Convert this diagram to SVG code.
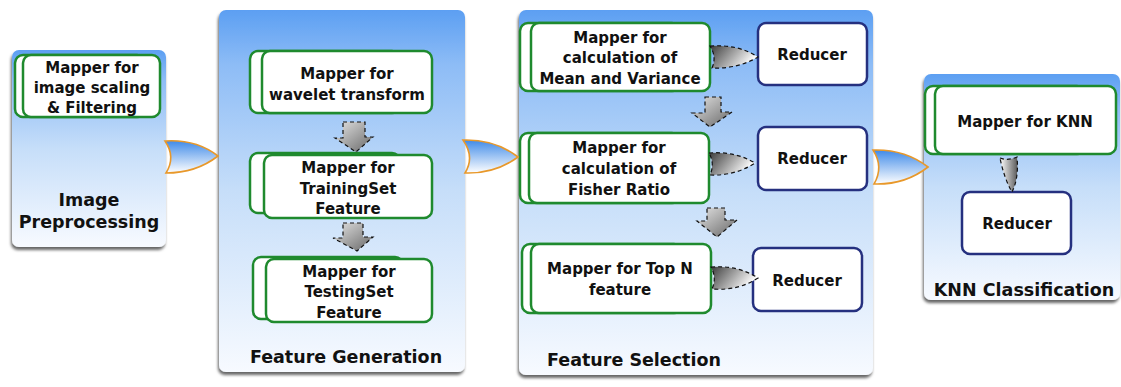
<svg xmlns="http://www.w3.org/2000/svg" width="1121" height="387" viewBox="0 0 1121 387">
  <defs>
    <linearGradient id="panelFill" x1="0" y1="0" x2="0" y2="1">
      <stop offset="0" stop-color="#5c9ff2"/>
      <stop offset="0.15" stop-color="#8dbcf6"/>
      <stop offset="0.5" stop-color="#c6def9"/>
      <stop offset="1" stop-color="#f7faff"/>
    </linearGradient>
    <linearGradient id="linkFill" x1="0" y1="0" x2="0" y2="1">
      <stop offset="0" stop-color="#3f8ae8"/>
      <stop offset="1" stop-color="#ffffff"/>
    </linearGradient>
    <linearGradient id="flowRight" x1="0" y1="0" x2="1" y2="0.4">
      <stop offset="0" stop-color="#3a3a3a"/>
      <stop offset="1" stop-color="#ffffff"/>
    </linearGradient>
    <linearGradient id="flowDown" x1="0" y1="0" x2="1" y2="1">
      <stop offset="0" stop-color="#e4e4e4"/>
      <stop offset="1" stop-color="#666666"/>
    </linearGradient>
    <linearGradient id="flowDownNarrow" x1="0" y1="0" x2="1" y2="0">
      <stop offset="0" stop-color="#ffffff"/>
      <stop offset="1" stop-color="#5a5a5a"/>
    </linearGradient>
    <filter id="shadow" x="-10%" y="-10%" width="120%" height="125%">
      <feDropShadow dx="-1" dy="3" stdDeviation="1.6" flood-color="#000" flood-opacity="0.6"/>
    </filter>
  </defs>
  <style>
    .panel { fill: url(#panelFill); filter: url(#shadow); }
    .map { fill: #ffffff; stroke: #1f8a2e; stroke-width: 2.5; }
    .red { fill: #ffffff; stroke: #25307f; stroke-width: 2.5; }
    .link { fill: url(#linkFill); stroke: #e8982a; stroke-width: 1.6; }
    .fr { fill: url(#flowRight); stroke: #111; stroke-width: 1.2; stroke-dasharray: 4 3; }
    .fd { fill: url(#flowDown); stroke: #111; stroke-width: 1.2; stroke-dasharray: 4 3; }
    .fdn { fill: url(#flowDownNarrow); stroke: #111; stroke-width: 1.2; stroke-dasharray: 4 3; }
    text { font-family: "DejaVu Sans", "Liberation Sans", sans-serif; font-weight: bold; fill: #111; text-anchor: middle; }
    .t { font-size: 15px; }
    .h { font-size: 17.5px; }
  </style>

  <rect width="1121" height="387" fill="#ffffff"/>

  <!-- stage panels -->
  <g id="stage-preprocessing">
    <rect class="panel" x="12" y="50" width="154" height="197" rx="7"/>
    <text class="h" x="89" y="206">Image</text>
    <text class="h" x="89" y="228">Preprocessing</text>
  </g>
  <g id="stage-generation">
    <rect class="panel" x="219" y="10" width="246" height="362" rx="7"/>
    <text class="h" x="346" y="363">Feature Generation</text>
  </g>
  <g id="stage-selection">
    <rect class="panel" x="519" y="10" width="354" height="365" rx="7"/>
    <text class="h" x="634" y="366">Feature Selection</text>
  </g>
  <g id="stage-knn">
    <rect class="panel" x="924" y="74" width="196" height="226" rx="7"/>
    <text class="h" x="1024" y="296">KNN Classification</text>
  </g>

  <!-- mapper and reducer nodes -->
  <g id="map-scaling">
    <rect class="map" x="15" y="55" width="130" height="62" rx="8"/>
    <rect class="map" x="23" y="55" width="137" height="62" rx="8"/>
    <text class="t" x="92" y="73">Mapper for</text>
    <text class="t" x="92" y="93">image scaling</text>
    <text class="t" x="92" y="113">&amp; Filtering</text>
  </g>

  <g id="map-wavelet">
    <rect class="map" x="250" y="51" width="150" height="62" rx="8"/>
    <rect class="map" x="262" y="51" width="170" height="62" rx="8"/>
    <text class="t" x="347" y="79">Mapper for</text>
    <text class="t" x="347" y="100">wavelet transform</text>
  </g>
  <g id="map-training">
    <rect class="map" x="250" y="153" width="150" height="60" rx="8"/>
    <rect class="map" x="264" y="155" width="168" height="63" rx="8"/>
    <text class="t" x="348" y="173">Mapper for</text>
    <text class="t" x="348" y="194">TrainingSet</text>
    <text class="t" x="348" y="214">Feature</text>
  </g>
  <g id="map-testing">
    <rect class="map" x="253" y="257" width="150" height="62" rx="8"/>
    <rect class="map" x="266" y="259" width="166" height="63" rx="8"/>
    <text class="t" x="349" y="277">Mapper for</text>
    <text class="t" x="349" y="297">TestingSet</text>
    <text class="t" x="349" y="318">Feature</text>
  </g>

  <g id="map-mean">
    <rect class="map" x="520" y="23" width="160" height="68" rx="8"/>
    <rect class="map" x="531" y="23" width="179" height="68" rx="8"/>
    <text class="t" x="620" y="43">Mapper for</text>
    <text class="t" x="620" y="63">calculation of</text>
    <text class="t" x="620" y="84">Mean and Variance</text>
  </g>
  <g id="red-mean">
    <rect class="red" x="758" y="23" width="109" height="62" rx="8"/>
    <text class="t" x="812" y="60">Reducer</text>
  </g>
  <g id="map-fisher">
    <rect class="map" x="520" y="133" width="160" height="70" rx="8"/>
    <rect class="map" x="529" y="133" width="180" height="70" rx="8"/>
    <text class="t" x="619" y="153">Mapper for</text>
    <text class="t" x="619" y="174">calculation of</text>
    <text class="t" x="619" y="195">Fisher Ratio</text>
  </g>
  <g id="red-fisher">
    <rect class="red" x="758" y="127" width="109" height="63" rx="8"/>
    <text class="t" x="812" y="164">Reducer</text>
  </g>
  <g id="map-topn">
    <rect class="map" x="522" y="244" width="160" height="69" rx="8"/>
    <rect class="map" x="531" y="244" width="180" height="69" rx="8"/>
    <text class="t" x="620" y="274">Mapper for Top N</text>
    <text class="t" x="620" y="295">feature</text>
  </g>
  <g id="red-topn">
    <rect class="red" x="753" y="248" width="109" height="63" rx="8"/>
    <text class="t" x="807" y="286">Reducer</text>
  </g>

  <g id="map-knn">
    <rect class="map" x="925" y="86" width="160" height="68" rx="8"/>
    <rect class="map" x="935" y="86" width="181" height="68" rx="8"/>
    <text class="t" x="1025" y="127">Mapper for KNN</text>
  </g>
  <g id="red-knn">
    <rect class="red" x="962" y="192" width="109" height="62" rx="8"/>
    <text class="t" x="1017" y="229">Reducer</text>
  </g>

  <!-- connectors -->
  <g id="connectors">
    <!-- stage to stage -->
    <path class="link" d="M165,141 Q196,139 218,156 Q196,173 166,173 Q176,157 165,141 Z"/>
    <path class="link" d="M463,140 Q495,139 518,157 Q495,174 465,173 Q475,157 463,140 Z"/>
    <path class="link" d="M873,150 Q905,149 928,167 Q905,185 874,184 Q884,167 873,150 Z"/>

    <!-- mapper to mapper -->
    <path class="fd" d="M343,122 L365,122 L365,137 L373,137 L356,152 L335,138 L343,138 Z"/>
    <path class="fd" d="M343,223 L363,223 L363,237 L373,237 L357,251 L333,238 L343,238 Z"/>
    <path class="fd" d="M705,97 L721,97 L721,112 L732,112 L710,127 L692,113 L705,113 Z"/>
    <path class="fd" d="M707,208 L725,208 L725,220 L737,220 L717,237 L697,221 L707,221 Z"/>

    <!-- mapper to reducer -->
    <path class="fr" d="M710,46 Q738,44 758,57 Q738,69 712,68 Q717,57 710,46 Z"/>
    <path class="fr" d="M709,153 Q735,151 755,163 Q735,176 710,175 Q715,164 709,153 Z"/>
    <path class="fr" d="M711,267 Q738,265 758,278 Q738,291 712,289 Q717,278 711,267 Z"/>
    <path class="fdn" d="M1000,158 Q1008,161 1017,157 Q1019,178 1012,192 Q1004,178 1000,158 Z"/>
  </g>
</svg>
